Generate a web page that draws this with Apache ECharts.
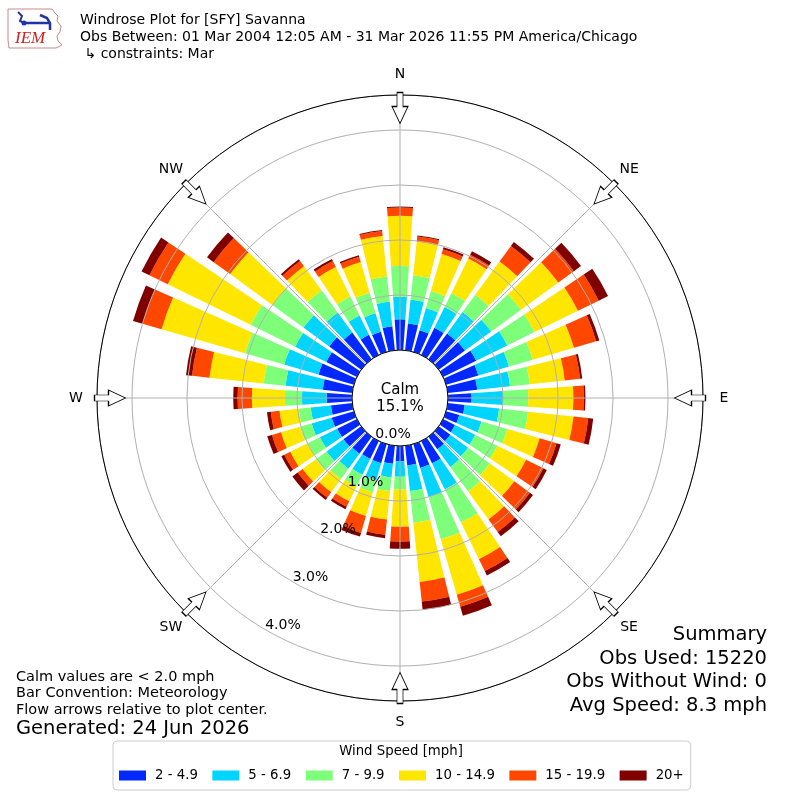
<!DOCTYPE html>
<html><head><meta charset="utf-8">
<script src="https://cdn.jsdelivr.net/npm/echarts@6/dist/echarts.min.js"></script>
<style>html,body{margin:0;padding:0;background:#fff}#c{width:800px;height:800px}</style>
</head><body><div id="c"></div>
<script>
// ---- data ----
const directions = ['0','10','20','30','40','50','60','70','80','90','100','110','120','130','140','150','160','170',
  '180','190','200','210','220','230','240','250','260','270','280','290','300','310','320','330','340','350'];
const speedBins = ['2 - 4.9','5 - 6.9','7 - 9.9','10 - 14.9','15 - 19.9','20+'];
// percent of observations per direction for each speed bin
const bin2to5 = [0.56,0.49,0.41,0.55,0.58,0.59,0.67,0.61,0.54,0.43,0.31,0.25,0.24,0.26,0.28,0.45,0.45,0.36,
  0.28,0.33,0.36,0.36,0.38,0.40,0.40,0.42,0.39,0.46,0.54,0.67,0.62,0.72,0.60,0.41,0.38,0.44];
const bin5to7 = [0.41,0.44,0.42,0.42,0.48,0.59,0.63,0.58,0.60,0.58,0.63,0.42,0.41,0.40,0.40,0.53,0.55,0.47,
  0.28,0.25,0.32,0.32,0.34,0.38,0.35,0.38,0.37,0.45,0.68,0.65,0.63,0.58,0.45,0.39,0.35,0.45];
const bin7to10 = [0.56,0.44,0.32,0.28,0.39,0.67,0.55,0.45,0.36,0.45,0.53,0.49,0.45,0.49,0.55,0.67,0.80,0.58,
  0.23,0.25,0.23,0.24,0.23,0.24,0.25,0.22,0.22,0.31,0.40,0.74,0.90,0.70,0.50,0.38,0.39,0.46];
const bin10to15 = [0.91,0.62,0.70,0.70,0.75,0.84,0.88,0.78,0.64,0.82,0.83,0.61,0.58,0.55,0.63,0.74,1.05,1.08,
  0.68,0.52,0.45,0.30,0.30,0.30,0.35,0.36,0.35,0.60,0.99,1.58,1.68,0.95,0.54,0.60,0.58,0.74];
const bin15to20 = [0.15,0.09,0.09,0.08,0.35,0.35,0.42,0.42,0.28,0.19,0.27,0.32,0.35,0.35,0.28,0.24,0.23,0.36,
  0.27,0.28,0.32,0.11,0.12,0.11,0.12,0.17,0.16,0.26,0.32,0.36,0.37,0.37,0.12,0.12,0.10,0.09];
const bin20plus = [0.02,0.02,0.04,0.07,0.09,0.16,0.19,0.06,0.04,0.03,0.09,0.08,0.07,0.07,0.10,0.09,0.17,0.15,
  0.13,0.06,0.07,0.05,0.05,0.12,0.06,0.09,0.07,0.08,0.11,0.18,0.16,0.15,0.04,0.04,0.03,0.02];
const binValues = [bin2to5, bin5to7, bin7to10, bin10to15, bin15to20, bin20plus];
const compassNames = ['N','NE','E','SE','S','SW','W','NW'];
const compassAngles = [0,45,90,135,180,225,270,315];
const radialTicks = [0,1,2,3,4];
const radialTickLabels = ['0.0%','1.0%','2.0%','3.0%','4.0%'];
const calmPercent = '15.1%';
const summaryLines = ['Summary','Obs Used: 15220','Obs Without Wind: 0','Avg Speed: 8.3 mph'];
const noteLines = ['Calm values are < 2.0 mph','Bar Convention: Meteorology','Flow arrows relative to plot center.'];
const generatedText = 'Generated: 24 Jun 2026';
const titleLines = ['Windrose Plot for [SFY] Savanna',
  'Obs Between: 01 Mar 2004 12:05 AM - 31 Mar 2026 11:55 PM America/Chicago',
  ' \u21b3 constraints: Mar'];

// ---- styles ----
const FONT = 'DejaVu Sans';
const colors = ['#0028ff','#00d4ff','#7dff7a','#ffe600','#ff4700','#800000'];
const CX = 400, CY = 398, R0 = 48, R1 = 303, PX_PER_PCT = 55, R_LABEL = 324;
const rMax = (R1 - R0) / PX_PER_PCT;
const arrowR = 4.4;
const labelAngle = 210;
const arrowPath = 'path://M5,0 L11,0 L11,14 L16,14 L8,31 L0,14 L5,14 Z';
const gridColor = '#b0b0b0';

const chart = echarts.init(document.getElementById('c'), null, {renderer: 'canvas'});

const polarCfg = {center: [CX, CY], radius: [R0, R1]};
const polarLabelCfg = {center: [CX, CY], radius: [0, R_LABEL]};

const series = speedBins.map((name, i) => ({
  type: 'bar', name, coordinateSystem: 'polar', polarIndex: 0, stack: 'rose',
  data: binValues[i], barWidth: '78%', itemStyle: {color: colors[i]}, z: 2, silent: true
}));
series.push({
  type: 'scatter', coordinateSystem: 'polar', polarIndex: 1, symbol: arrowPath, symbolSize: [16, 31],
  data: compassAngles.map(a => ({value: [arrowR, a], symbolRotate: -a})),
  itemStyle: {color: '#ffffff', borderColor: '#000000', borderWidth: 1, opacity: 1}, z: 10, silent: true
});
series.push({
  type: 'scatter', coordinateSystem: 'polar', polarIndex: 2, symbolSize: 0,
  data: compassAngles.map((a, i) => ({value: [1, a], label: {formatter: compassNames[i]}})),
  label: {show: true, position: 'inside', color: '#000', fontSize: 14, fontFamily: FONT, textBorderWidth: 0, opacity: 1},
  itemStyle: {color: 'rgba(0,0,0,0)', opacity: 1}, z: 12, silent: true
});
series.push({
  type: 'scatter', coordinateSystem: 'polar', polarIndex: 1, symbolSize: 0,
  data: radialTicks.map((v, i) => ({value: [v, labelAngle], label: {formatter: radialTickLabels[i]}})),
  label: {show: true, position: 'inside', offset: [17, -5], color: '#000', fontSize: 14, fontFamily: FONT, textBorderWidth: 0, opacity: 1},
  itemStyle: {color: 'rgba(0,0,0,0)', opacity: 1}, z: 12, silent: true
});

const graphics = [];
titleLines.forEach((t, i) => graphics.push({type: 'text', x: 80, y: 20 + i * 17,
  style: {text: t, font: '14px "' + FONT + '"', fill: '#000', align: 'left', verticalAlign: 'middle'}}));
noteLines.forEach((t, i) => graphics.push({type: 'text', x: 16, y: 677 + i * 16.5,
  style: {text: t, font: '14.5px "' + FONT + '"', fill: '#000', align: 'left', verticalAlign: 'middle'}}));
graphics.push({type: 'text', x: 16, y: 729,
  style: {text: generatedText, font: '19.5px "' + FONT + '"', fill: '#000', align: 'left', verticalAlign: 'middle'}});
summaryLines.forEach((t, i) => graphics.push({type: 'text', x: 767, y: 635 + i * 23.7,
  style: {text: t, font: '19.5px "' + FONT + '"', fill: '#000', align: 'right', verticalAlign: 'middle'}}));
graphics.push({type: 'text', x: CX, y: 390,
  style: {text: 'Calm', font: '15px "' + FONT + '"', fill: '#000', align: 'center', verticalAlign: 'middle'}, z: 20});
graphics.push({type: 'text', x: CX, y: 407,
  style: {text: calmPercent, font: '15px "' + FONT + '"', fill: '#000', align: 'center', verticalAlign: 'middle'}, z: 20});
graphics.push({type: 'text', x: 401, y: 752,
  style: {text: 'Wind Speed [mph]', font: '13.3px "' + FONT + '"', fill: '#000', align: 'center', verticalAlign: 'middle'}, z: 20});
// IEM logo
graphics.push({type: 'polygon', shape: {points: [[8,9],[52,9],[55,13],[58,16],[57,21],[61,26],[60,32],[57,36],[58,41],[62,45],[56,48],[9,48],[8,40]]},
  style: {fill: 'none', stroke: '#c98a8a', lineWidth: 1}});
graphics.push({type: 'polyline', shape: {points: [[18,12],[22,16],[20,21],[24,23]]}, style: {stroke: '#2233aa', lineWidth: 2, fill: 'none'}});
graphics.push({type: 'polyline', shape: {points: [[24,23],[50,23]]}, style: {stroke: '#2233aa', lineWidth: 2.5, fill: 'none'}});
graphics.push({type: 'polyline', shape: {points: [[40,15],[47,18],[50,23],[50,30]]}, style: {stroke: '#2233aa', lineWidth: 2.5, fill: 'none'}});
graphics.push({type: 'circle', shape: {cx: 24, cy: 23, r: 2.5}, style: {fill: '#2233aa'}});
graphics.push({type: 'text', x: 15, y: 39,
  style: {text: 'IEM', font: 'italic 17px "Liberation Serif"', fill: '#cc2222', align: 'left', verticalAlign: 'middle'}});

const hiddenAxis = {axisLine: {show: false}, axisTick: {show: false}, axisLabel: {show: false}, splitLine: {show: false}};

const option = {
  animation: false,
  backgroundColor: '#ffffff',
  polar: [polarCfg, polarCfg, polarLabelCfg],
  angleAxis: [
    Object.assign({polarIndex: 0, type: 'category', data: directions, startAngle: 95, clockwise: true, boundaryGap: true}, hiddenAxis),
    {polarIndex: 1, type: 'value', min: 0, max: 360, interval: 45, startAngle: 90, clockwise: true, z: 5,
      axisLine: {show: true, lineStyle: {color: '#000', width: 1}},
      axisTick: {show: false},
      splitLine: {show: true, lineStyle: {color: gridColor, width: 1}},
      axisLabel: {show: false}},
    Object.assign({polarIndex: 2, type: 'value', min: 0, max: 360, startAngle: 90, clockwise: true}, hiddenAxis)
  ],
  radiusAxis: [
    Object.assign({polarIndex: 0, type: 'value', min: 0, max: rMax}, hiddenAxis),
    {polarIndex: 1, type: 'value', min: 0, max: rMax, interval: 1, z: 5,
      axisLine: {show: false}, axisTick: {show: false}, axisLabel: {show: false},
      splitLine: {show: true, lineStyle: {color: gridColor, width: 1}}},
    Object.assign({polarIndex: 2, type: 'value', min: 0, max: 1}, hiddenAxis)
  ],
  legend: {
    data: speedBins, left: 113, top: 741, orient: 'horizontal', selectedMode: false,
    icon: 'rect', itemWidth: 27, itemHeight: 10, itemGap: 14.5,
    padding: [28, 7, 8, 6], borderColor: '#cccccc', borderWidth: 1, borderRadius: 4, backgroundColor: '#fff',
    textStyle: {color: '#000', fontSize: 13.3, fontFamily: FONT, padding: [0, 0, 0, 4]}
  },
  graphic: graphics,
  series
};
chart.setOption(option);
</script></body></html>
